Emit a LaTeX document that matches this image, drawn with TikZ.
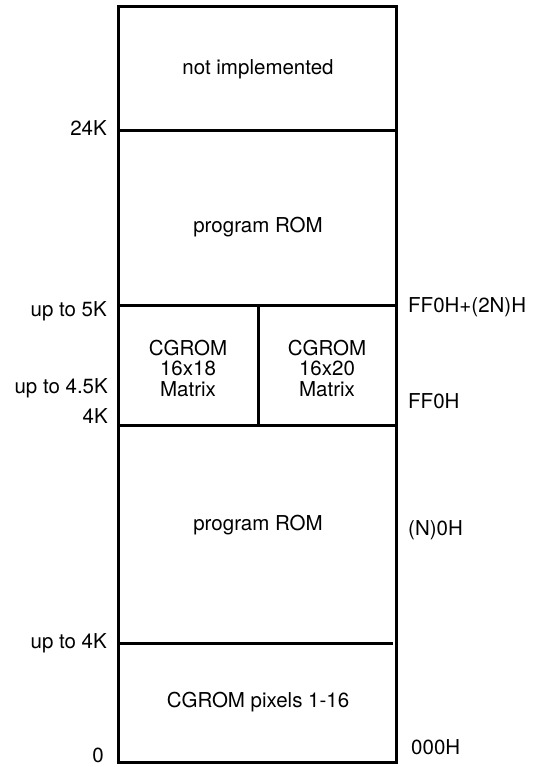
\documentclass[tikz,border=0pt]{standalone}
\usepackage{fontspec}
\setmainfont{TeX Gyre Heros}
\usetikzlibrary{positioning}
\begin{document}
\begin{tikzpicture}[x=1pt, y=-1pt,
    wall/.style={line width=3pt},
    region/.style={align=center, inner sep=0pt, font=\fontsize{20.5}{20.5}\selectfont},
    addrleft/.style={anchor=base east, inner sep=0pt, font=\fontsize{20.5}{21}\selectfont},
    addrright/.style={anchor=base west, inner sep=0pt, font=\fontsize{20.5}{21}\selectfont}]
    \useasboundingbox (0,0) rectangle (541,767);

    % Memory outline
    \coordinate (topL) at (118,7);
    \coordinate (botR) at (396,762);
    \draw[wall] (topL) rectangle (botR);

    % Boundaries
    \coordinate (k24L) at (118,131);  \coordinate (k24R) at (396,131);
    \coordinate (k5L) at (118,305);   \coordinate (k5R) at (396,305);
    \coordinate (k4L) at (118,425);   \coordinate (k4R) at (396,425);
    \coordinate (u4L) at (118,643);   \coordinate (u4R) at (393,643);
    \coordinate (midT) at (258,305);  \coordinate (midB) at (258,425);
    \draw[wall] (k24L) -- (k24R);
    \draw[wall] (k5L) -- (k5R);
    \draw[wall] (k4L) -- (k4R);
    \draw[wall] (u4L) -- (u4R);
    \draw[wall] (midT) -- (midB);

    % Regions
    \node[region, anchor=base] (notimpl) at (258,75) {not implemented};
    \node[region, anchor=base] (promhigh) at (258,233) {program ROM};
    \node[region] (cg18) at (188,368) {CGROM\\16x18\\Matrix};
    \node[region] (cg20) at (327,368) {CGROM\\16x20\\Matrix};
    \node[region, anchor=base] (promlow) at (258,530) {program ROM};
    \node[region, anchor=base] (cgpix) at (258,707) {CGROM pixels 1-16};

    % Left addresses
    \node[addrleft] (a24k) at (107,136) {24K};
    \node[addrleft] (a5k) at (107,316) {up to 5K};
    \node[addrleft] (a45k) at (108,393) {up to 4.5K};
    \node[addrleft] (a4k) at (108,423) {4K};
    \node[addrleft] (au4k) at (107,648) {up to 4K};
    \node[addrleft] (a0) at (104,762) {0};

    % Right addresses
    \node[addrright] (hff0n) at (408,312) {FF0H+(2N)H};
    \node[addrright] (hff0) at (408,408) {FF0H};
    \node[addrright] (hn0) at (408,535) {(N)0H};
    \node[addrright] (h000) at (411,754) {000H};
\end{tikzpicture}
\end{document}
